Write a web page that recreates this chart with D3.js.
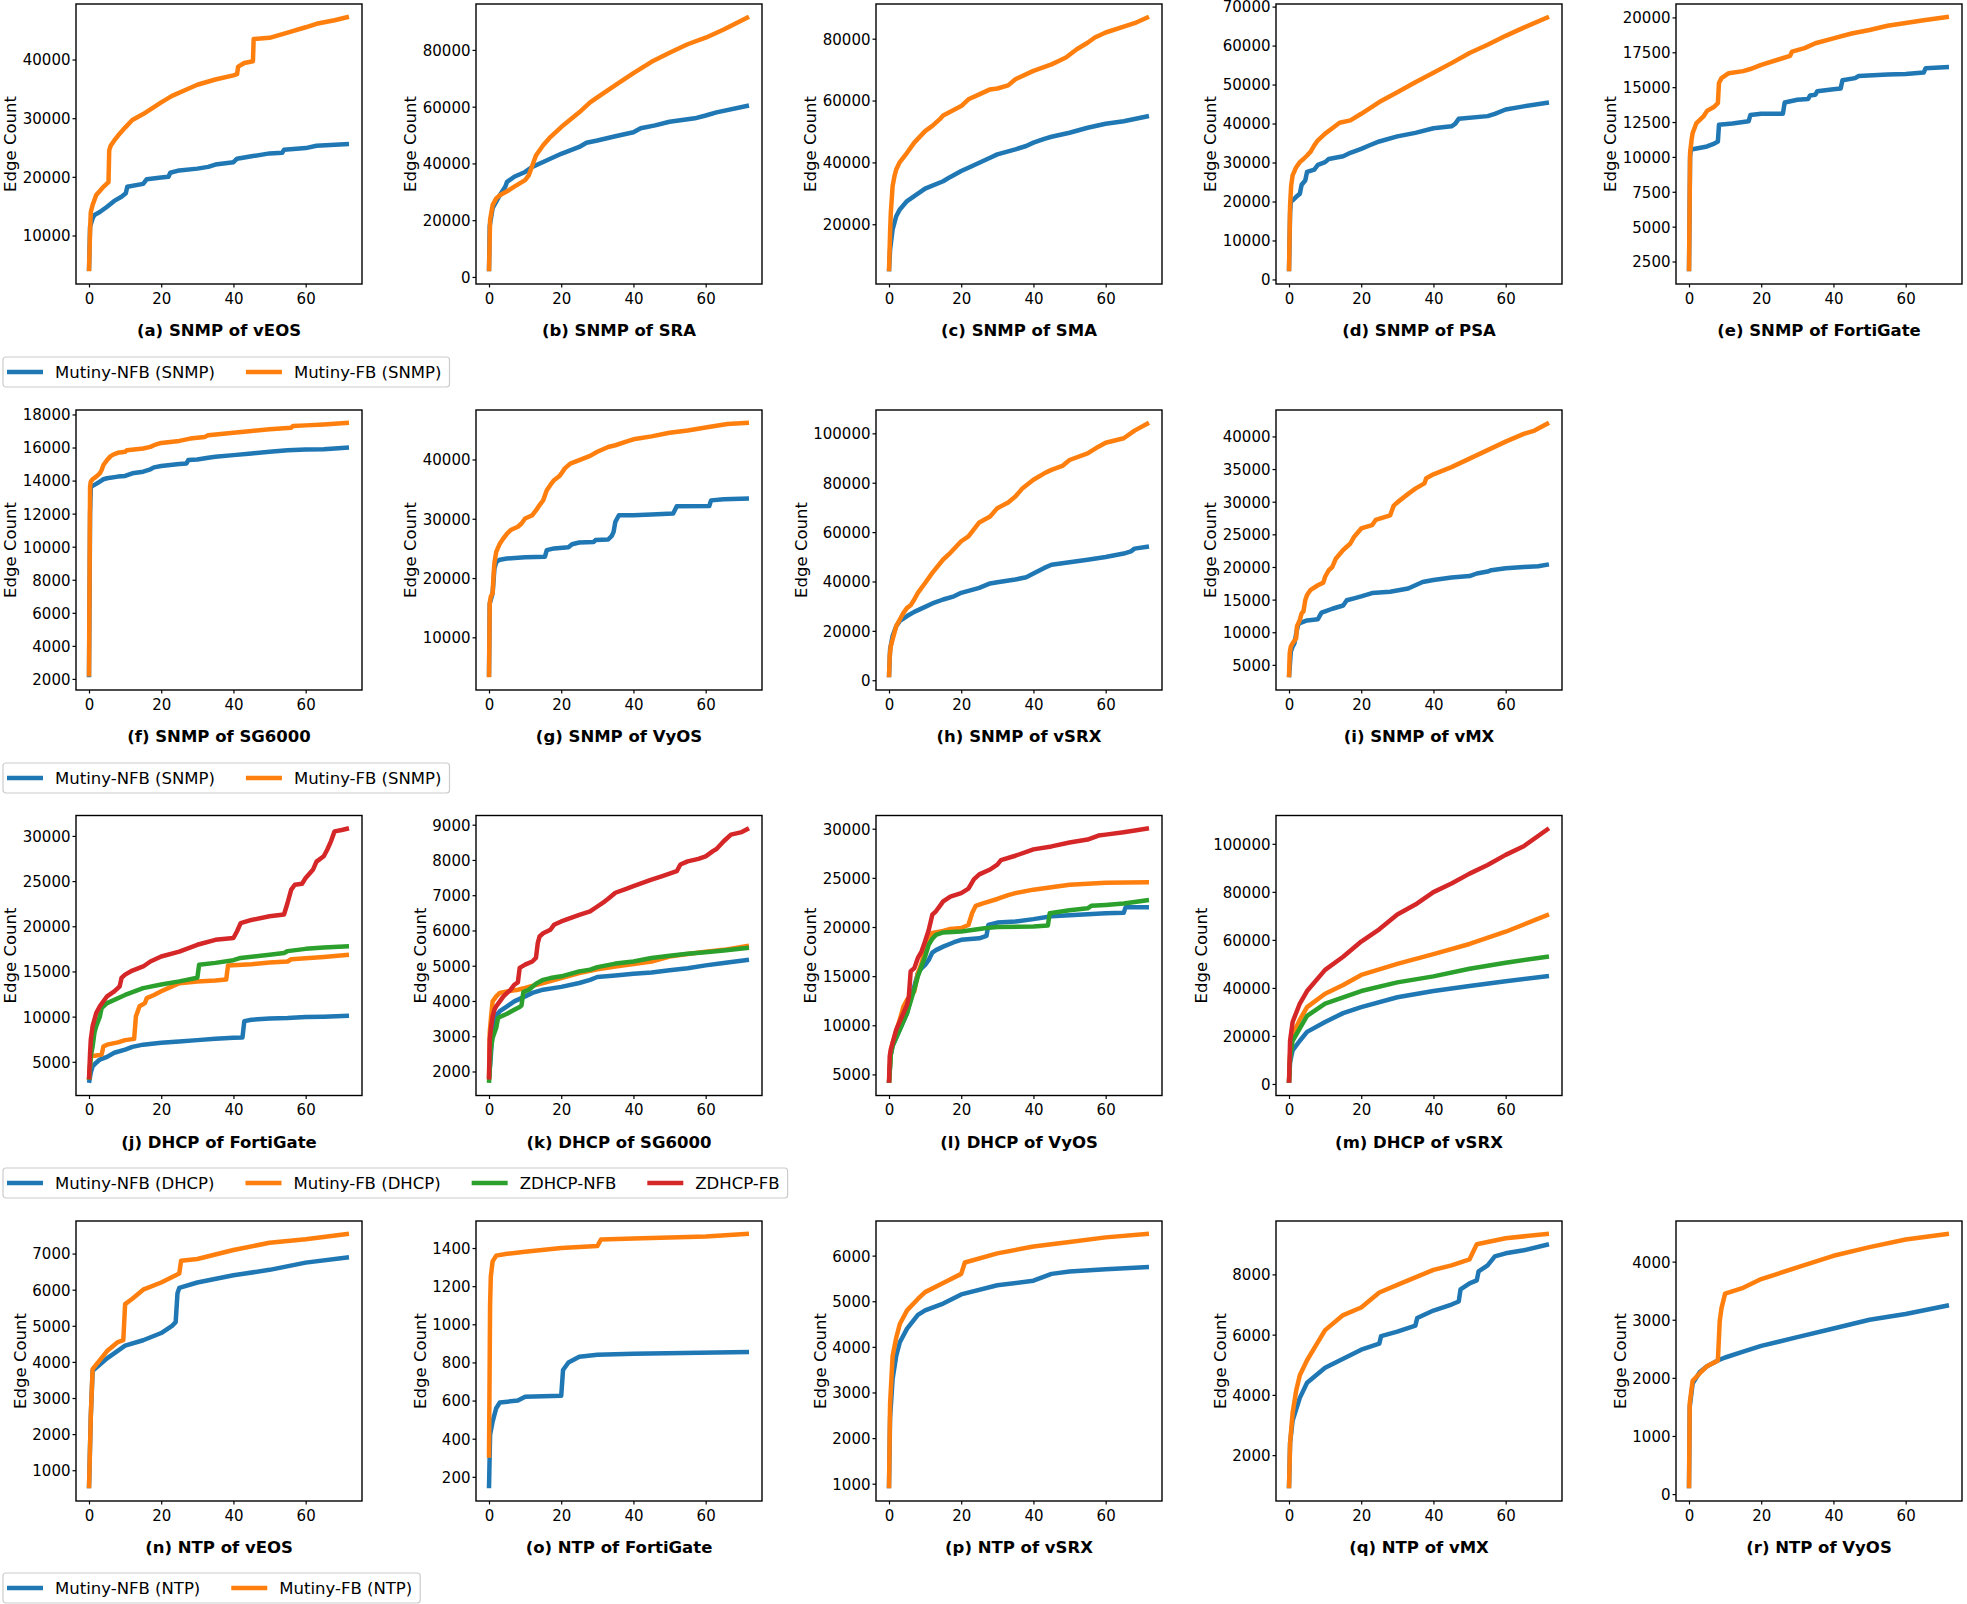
<!DOCTYPE html>
<html><head><meta charset="utf-8">
<script src="https://cdn.jsdelivr.net/npm/d3@7"></script>
<style>body{margin:0;background:#fff} svg{display:block} text{font-family:"DejaVu Sans",sans-serif}</style>
</head><body><script>
const xTicks=[0,20,40,60];
// ---- (a) SNMP of vEOS
const snmpVeosNfb=[[0,4000],[0.3,11500],[1,12900],[1.5,13500],[3,14000],[5,14900],[7,15900],[9,16600],[10.2,17200],[10.6,18300],[15,18800],[16,19600],[20,19900],[22,20000],[22.5,20700],[25,21100],[30,21400],[33,21700],[35,22100],[40,22500],[41,23100],[45,23500],[50,24000],[53.5,24100],[54,24600],[60,24900],[63,25300],[72,25600]];
const snmpVeosFb=[[0,3900],[0.3,11000],[0.5,14000],[1,15200],[2,16900],[3,17600],[4,18300],[5.4,19100],[5.6,24500],[6,25300],[7,26200],[8,27000],[10,28400],[12,29700],[15,30700],[20,32700],[23,33800],[27,34900],[30,35700],[35,36600],[40,37300],[41,37500],[41.3,38800],[43,39400],[45.4,39700],[45.6,43500],[50,43700],[55,44600],[60,45500],[63,46100],[68,46700],[72,47300]];
// ---- (b) SNMP of SRA
const snmpSraNfb=[[0,2000],[0.2,18000],[1,24200],[3,28800],[4.5,31800],[5,33500],[7,35300],[10,37000],[12,38800],[15,40500],[20,43400],[25,45800],[27,47300],[30,48100],[35,49600],[40,51000],[42,52400],[46,53400],[50,54700],[57,55900],[60,56900],[63,58000],[72,60400]];
const snmpSraFb=[[0,2000],[0.3,20000],[1,25300],[2,27700],[3,28800],[5,30200],[7,31800],[10,34100],[11,35800],[12,39300],[13,42800],[15,46400],[17,49300],[20,52800],[25,58000],[28,61500],[30,63300],[35,67600],[40,71800],[45,75800],[50,79000],[55,82000],[60,84300],[65,87200],[72,91700]];
// ---- (c) SNMP of SMA
const snmpSmaNfb=[[0,4800],[0.3,11800],[1,18300],[2,22600],[3,24800],[5,27500],[7,29100],[9,30700],[10,31500],[15,33900],[17,35300],[20,37200],[22,38300],[25,39900],[28,41500],[30,42600],[35,44200],[38,45300],[40,46400],[43,47600],[45,48300],[50,49600],[55,51200],[60,52500],[65,53300],[72,55000]];
const snmpSmaFb=[[0,4800],[0.3,17200],[0.5,23700],[1,32300],[1.5,35500],[2,37700],[3,40100],[5,43100],[7,46400],[10,50100],[12,51800],[14,53900],[15,55200],[20,58200],[22,60400],[25,62000],[28,63600],[30,63900],[33,64900],[35,66900],[40,69600],[45,71700],[47,72800],[49,73900],[52,76600],[55,78700],[57,80400],[60,82000],[65,83900],[68,85000],[72,87100]];
// ---- (d) SNMP of PSA
const snmpPsaNfb=[[0,2100],[0.3,17000],[0.5,19900],[1,20300],[2,21200],[3,22000],[3.5,24300],[4.5,25400],[5,27600],[7,28200],[8,29400],[10,30100],[11,30900],[15,31600],[17,32500],[20,33500],[22,34300],[25,35400],[30,36700],[35,37600],[40,38800],[45,39300],[46,39900],[47,41200],[55,41900],[57,42500],[60,43600],[65,44400],[72,45400]];
const snmpPsaFb=[[0,2100],[0.3,19000],[0.6,24100],[1,26700],[2,28800],[3,30100],[4,30900],[5,31800],[6,32800],[7,34400],[8,35700],[10,37400],[12,38800],[14,40200],[17,40800],[20,42500],[25,45500],[30,48000],[35,50600],[40,53000],[45,55500],[50,58100],[55,60200],[60,62500],[65,64600],[72,67400]];
// ---- (e) SNMP of FortiGate
const snmpFortiNfb=[[0,1800],[0.3,10000],[0.5,10500],[1,10550],[5,10750],[7,10950],[8,11100],[8.3,12300],[12,12400],[16.5,12550],[17,13000],[20,13100],[26,13100],[26.5,13900],[30,14100],[33,14150],[33.5,14400],[35,14450],[35.5,14700],[40,14850],[42,14900],[42.5,15500],[46,15650],[47,15800],[55,15900],[60,15950],[65,16050],[65.5,16350],[72,16450]];
const snmpFortiFb=[[0,1800],[0.3,10300],[0.7,11200],[1,11700],[2,12400],[3,12650],[4,12900],[5,13300],[7,13600],[8,13850],[8.3,15300],[9,15650],[11,16000],[15,16150],[17,16300],[20,16600],[25,17000],[28,17250],[28.5,17550],[32,17800],[35,18150],[40,18500],[45,18850],[50,19100],[55,19400],[60,19600],[65,19800],[72,20050]];
// ---- (f) SNMP of SG6000
const snmpSgNfb=[[0,2100],[0.3,12000],[0.5,13600],[1,13680],[2,13800],[3,13940],[4,14080],[5,14140],[8,14240],[10,14280],[12,14440],[15,14540],[17,14680],[18,14800],[20,14880],[25,15000],[27,15040],[27.5,15240],[30,15280],[33,15380],[35,15440],[40,15540],[45,15640],[50,15740],[55,15840],[60,15880],[65,15900],[72,16000]];
const snmpSgFb=[[0,2140],[0.3,13640],[0.5,13940],[1,14080],[2,14240],[3,14440],[3.5,14640],[4,14940],[5,15240],[6,15480],[7,15600],[8,15680],[10,15740],[10.5,15840],[15,15940],[17,16040],[18,16140],[20,16280],[25,16400],[28,16540],[32,16640],[33,16740],[40,16900],[45,17000],[50,17100],[56,17200],[56.5,17300],[60,17340],[65,17400],[72,17500]];
// ---- (g) SNMP of VyOS
const snmpVyosNfb=[[0,3300],[0.2,15700],[1,17400],[1.5,21600],[2,22700],[3,23100],[5,23300],[10,23500],[15.5,23600],[16,24700],[18,25000],[22,25200],[23,25700],[25,26000],[29,26100],[29.5,26400],[33,26500],[34,27100],[34.5,27800],[35,29500],[36,30600],[40,30600],[45,30700],[51,30900],[52,32100],[61,32150],[61.5,33100],[65,33300],[72,33400]];
const snmpVyosFb=[[0,3260],[0.2,15700],[0.5,16850],[1,17400],[1.3,20800],[1.5,22500],[2,24400],[3,25800],[4,26700],[5,27500],[6,28100],[8,28650],[9,29200],[10,30050],[12,30600],[13,31400],[14,32300],[15,33100],[16,34800],[17,35700],[18,36500],[19.5,37200],[20,37600],[21,38500],[22.5,39300],[25,39900],[28,40600],[30,41300],[33,42100],[35,42400],[38,43000],[40,43400],[45,43900],[50,44500],[55,44900],[60,45400],[63,45700],[66,46000],[72,46200]];
// ---- (h) SNMP of vSRX
const snmpVsrxNfb=[[0,1200],[0.3,12500],[1,17900],[2,21900],[3,24000],[5,26000],[7,27700],[10,29700],[12,31100],[15,32700],[18,34000],[20,35400],[25,37400],[28,39200],[30,39700],[35,40800],[38,41700],[40,43200],[43,45500],[45,46800],[50,47800],[55,48800],[60,49900],[65,51300],[67,52200],[68,53300],[72,54200]];
const snmpVsrxFb=[[0,1200],[0.2,9800],[0.5,13900],[1,16500],[2,21900],[3,24600],[4,27300],[5,29300],[6,30400],[7,32700],[8,35400],[10,39400],[12,43500],[15,48900],[17,51600],[20,56300],[22,58300],[25,63900],[28,66300],[30,69700],[33,72000],[35,74400],[37,77800],[40,81200],[43,83800],[45,85200],[48,86800],[50,89200],[55,91900],[58,94600],[60,96200],[65,98000],[68,101100],[72,104300]];
// ---- (i) SNMP of vMX
const snmpVmxNfb=[[0,3100],[0.5,7000],[1,7800],[1.5,8300],[2,9800],[2.5,11100],[3,11400],[5,11800],[8,12000],[9,13000],[10,13200],[12,13600],[15,14100],[16,14900],[18,15200],[20,15500],[23,16000],[28,16200],[33,16700],[35,17200],[37,17700],[40,18000],[45,18400],[50,18600],[52,19000],[55,19300],[56,19500],[60,19800],[65,20000],[69,20100],[72,20400]];
const snmpVmxFb=[[0,3100],[0.2,6800],[0.5,7800],[1,8300],[2,9100],[2.2,10900],[3,11900],[3.5,12900],[4,13200],[4.5,14900],[5,15700],[6,16500],[8,17200],[9.5,17600],[10,18500],[11,19500],[12,20000],[13,21300],[15,22600],[17,23600],[18,24600],[20,25900],[23,26400],[24,27200],[28,27900],[29,29400],[30,29900],[33,31200],[35,32000],[37.5,32800],[38,33600],[40,34200],[45,35300],[50,36600],[55,37900],[60,39200],[65,40400],[68,40900],[72,42100]];
// ---- (j) DHCP of FortiGate
const dhcpFortiMnfb=[[0,2680],[0.5,3800],[1,4500],[2,4900],[3,5250],[5,5550],[7,6000],[10,6350],[12,6650],[15,6900],[20,7100],[25,7250],[30,7400],[35,7550],[40,7650],[42.5,7700],[43,9500],[45,9650],[50,9800],[55,9850],[60,9950],[65,10000],[72,10100]];
const dhcpFortiMfb=[[0,3000],[0.5,5600],[2,5700],[3.5,5800],[4,6700],[5,6900],[8,7150],[10,7400],[12.5,7540],[13,10050],[14,11150],[15.5,11500],[16,12050],[18,12400],[20,12800],[23,13350],[25,13700],[30,13900],[35,14000],[38,14100],[38.5,15650],[45,15800],[50,16000],[55,16100],[56,16350],[60,16450],[65,16600],[72,16850]];
const dhcpFortiZnfb=[[0,3000],[0.5,5600],[1,6700],[1.5,8200],[2,8940],[3,10000],[3.5,10950],[5,11500],[10,12400],[15,13150],[20,13550],[25,13900],[30,14300],[30.5,15750],[35,15950],[40,16250],[42,16500],[50,16850],[54,17050],[55,17250],[60,17500],[65,17650],[72,17800]];
const dhcpFortiZfb=[[0,3050],[0.3,6000],[0.5,7470],[1,8940],[2,10400],[3,11150],[5,12250],[7,12800],[8.5,13350],[9,14280],[10,14650],[12,15100],[15,15550],[17,16100],[20,16650],[25,17200],[30,17950],[35,18500],[40,18700],[41,19450],[42,20350],[45,20700],[50,21100],[54,21300],[55,22600],[56,24050],[57,24600],[59,24700],[60,25350],[62,26250],[63,27150],[65,27750],[66,28500],[67,29400],[68,30500],[70,30650],[72,30850]];
// ---- (k) DHCP of SG6000
const dhcpSgMnfb=[[0,1800],[0.5,2440],[1,3200],[2,3590],[3,3710],[5,3850],[7,3990],[10,4130],[12,4230],[15,4320],[20,4400],[25,4510],[28,4600],[30,4680],[35,4720],[40,4770],[45,4810],[50,4870],[55,4930],[60,5010],[65,5080],[72,5170]];
const dhcpSgMfb=[[0,1800],[0.2,3100],[0.5,3470],[1,3990],[2,4130],[3,4230],[5,4270],[8,4320],[10,4370],[15,4510],[20,4650],[25,4790],[30,4900],[35,4980],[40,5050],[45,5120],[50,5260],[55,5330],[60,5400],[65,5450],[72,5570]];
const dhcpSgZnfb=[[0,1680],[0.5,2620],[1,2950],[1.5,3100],[2,3240],[2.5,3520],[3,3545],[5,3640],[7,3750],[8.5,3830],[9,3870],[9.5,4250],[11,4320],[12,4400],[13,4490],[15,4600],[17,4650],[20,4700],[25,4840],[28,4890],[30,4960],[35,5060],[40,5120],[45,5220],[50,5280],[55,5340],[60,5380],[65,5430],[72,5510]];
const dhcpSgZfb=[[0,1770],[0.2,2900],[0.5,3200],[1,3560],[1.5,3750],[2,3850],[3,3990],[4,4130],[5,4230],[6,4320],[7,4460],[8,4530],[8.5,4940],[10,5030],[12,5120],[13,5220],[13.5,5640],[14,5830],[15,5920],[17,6020],[18,6160],[20,6255],[25,6440],[28,6540],[30,6680],[32,6820],[33,6900],[35,7070],[38,7180],[40,7260],[45,7440],[48,7540],[50,7610],[52,7680],[53,7870],[55,7960],[58,8030],[60,8100],[62,8250],[63,8310],[65,8530],[67,8720],[70,8790],[72,8900]];
// ---- (l) DHCP of VyOS
const dhcpVyosMnfb=[[0,4150],[0.5,7000],[1,7900],[3,9550],[5,11250],[7,13950],[8,15300],[9,15800],[10,16150],[11,16650],[12,17400],[13,17650],[15,18000],[18,18450],[20,18700],[25,18850],[27,19100],[27.5,20200],[30,20450],[35,20550],[40,20800],[45,21100],[50,21200],[55,21300],[60,21400],[65,21450],[65.5,22000],[72,22000]];
const dhcpVyosMfb=[[0,4150],[0.5,7300],[1,8200],[3,10600],[4,11900],[5,12600],[6,12950],[7,13450],[8,15300],[9,16300],[10,17700],[11,18900],[12,19400],[15,19600],[17,19800],[20,19900],[22,20200],[23,21400],[24,22150],[26,22400],[30,22850],[33,23250],[35,23450],[40,23800],[45,24050],[50,24300],[55,24400],[60,24500],[72,24550]];
const dhcpVyosZnfb=[[0,4150],[0.5,7000],[1,7900],[3,9550],[5,11250],[7,13650],[8,15000],[10,17000],[11,18200],[12,18800],[13,19200],[15,19450],[20,19550],[27,19900],[30,20000],[40,20050],[44,20150],[44.5,21400],[50,21700],[55,21900],[56,22150],[60,22250],[65,22400],[72,22750]];
const dhcpVyosZfb=[[0,4150],[0.2,6850],[0.5,7540],[1,8200],[2,9560],[3,10400],[4,11250],[5,12100],[5.5,12950],[6,15500],[7,15800],[8,16850],[9,17500],[10,18550],[11,19700],[12,21250],[13,21600],[14,22100],[15,22600],[17,23100],[20,23450],[22,23900],[23.5,24850],[25,25350],[28,25850],[30,26350],[31,26800],[35,27250],[40,27900],[45,28200],[50,28600],[55,28900],[58,29300],[60,29400],[65,29650],[72,30050]];
// ---- (m) DHCP of vSRX
const dhcpVsrxMnfb=[[0,500],[0.3,9000],[1,14000],[3,18000],[5,21700],[10,25800],[15,29500],[20,32000],[30,36100],[40,38700],[50,40800],[60,42800],[72,45000]];
const dhcpVsrxMfb=[[0,500],[0.3,12000],[1,20600],[3,26800],[5,32000],[10,37600],[15,41200],[20,45400],[30,50000],[40,54100],[50,58300],[60,63400],[72,70600]];
const dhcpVsrxZnfb=[[0,500],[0.3,11000],[1,18000],[3,23200],[5,28400],[10,33500],[15,36100],[20,38700],[30,42300],[40,44800],[50,48000],[60,50500],[72,53100]];
const dhcpVsrxZfb=[[0,500],[0.3,18000],[1,25800],[3,33500],[5,38700],[10,47500],[15,53000],[20,59300],[25,64400],[30,70600],[35,74700],[40,79900],[45,83500],[50,87600],[55,91200],[60,95400],[65,99000],[72,106500]];
// ---- (n)-(r) NTP
const ntpVeosNfb=[[0,500],[0.5,2500],[1,3750],[5,4100],[10,4450],[15,4600],[20,4800],[23,5000],[24,5100],[24.5,5900],[25,6050],[30,6200],[40,6400],[50,6550],[60,6750],[72,6900]];
const ntpVeosFb=[[0,500],[0.5,2500],[1,3800],[5,4300],[8,4550],[9.5,4600],[10,5600],[12,5750],[15,6000],[20,6200],[25,6450],[25.5,6800],[30,6850],[40,7100],[50,7300],[60,7400],[72,7550]];
const ntpFortiNfb=[[0,140],[0.3,420],[1,490],[2,560],[3,590],[8,600],[10,620],[20,625],[20.5,760],[22,800],[25,830],[30,840],[40,845],[72,855]];
const ntpFortiFb=[[0,300],[0.3,1100],[0.5,1250],[1,1330],[2,1360],[5,1370],[10,1380],[20,1400],[30,1410],[31,1445],[40,1450],[60,1460],[72,1475]];
const ntpVsrxNfb=[[0,900],[0.3,2450],[1,3300],[2,3800],[3,4100],[5,4400],[8,4700],[10,4800],[15,4950],[20,5150],[30,5350],[40,5450],[45,5600],[50,5650],[60,5700],[72,5750]];
const ntpVsrxFb=[[0,900],[0.3,2750],[1,3800],[2,4200],[3,4500],[5,4800],[8,5050],[10,5200],[15,5400],[20,5600],[21,5850],[30,6050],[40,6200],[50,6300],[60,6400],[72,6480]];
const ntpVmxNfb=[[0,900],[0.3,2400],[1,3150],[3,3900],[5,4400],[10,4900],[20,5500],[25,5700],[25.5,5950],[30,6100],[35,6300],[35.5,6550],[40,6800],[45,7000],[47,7100],[47.5,7500],[50,7700],[52,7800],[52.5,8100],[55,8300],[57,8600],[60,8700],[65,8800],[72,9000]];
const ntpVmxFb=[[0,900],[0.3,2400],[1,3400],[2,4150],[3,4650],[5,5150],[8,5750],[10,6150],[15,6650],[20,6900],[25,7400],[30,7650],[35,7900],[40,8150],[45,8300],[50,8500],[52,9000],[60,9200],[72,9350]];
const ntpVyosNfb=[[0,100],[0.2,1500],[1,1900],[3,2100],[5,2200],[8,2300],[10,2350],[15,2450],[20,2550],[30,2700],[40,2850],[50,3000],[60,3100],[72,3250]];
const ntpVyosFb=[[0,100],[0.2,1560],[1,1950],[3,2080],[5,2200],[8,2300],[8.5,2970],[9,3200],[10,3450],[15,3550],[20,3700],[30,3900],[40,4100],[50,4250],[60,4380],[72,4480]];

// tick values per panel
const ticksA=[10000,20000,30000,40000], ticksB=[0,20000,40000,60000,80000], ticksC=[20000,40000,60000,80000];
const ticksD=[0,10000,20000,30000,40000,50000,60000,70000], ticksE=[2500,5000,7500,10000,12500,15000,17500,20000];
const ticksF=[2000,4000,6000,8000,10000,12000,14000,16000,18000], ticksG=[10000,20000,30000,40000];
const ticksH=[0,20000,40000,60000,80000,100000], ticksI=[5000,10000,15000,20000,25000,30000,35000,40000];
const ticksJ=[5000,10000,15000,20000,25000,30000], ticksK=[2000,3000,4000,5000,6000,7000,8000,9000];
const ticksL=[5000,10000,15000,20000,25000,30000], ticksM=[0,20000,40000,60000,80000,100000];
const ticksN=[1000,2000,3000,4000,5000,6000,7000], ticksO=[200,400,600,800,1000,1200,1400];
const ticksP=[1000,2000,3000,4000,5000,6000], ticksQ=[2000,4000,6000,8000], ticksR=[0,1000,2000,3000,4000];

const C={nfb:"#1f77b4",fb:"#ff7f0e",znfb:"#2ca02c",zfb:"#d62728"};
const panels=[
 {r:0,c:0,t:"(a) SNMP of vEOS",yt:ticksA,s:[[snmpVeosNfb,C.nfb],[snmpVeosFb,C.fb]]},
 {r:0,c:1,t:"(b) SNMP of SRA",yt:ticksB,s:[[snmpSraNfb,C.nfb],[snmpSraFb,C.fb]]},
 {r:0,c:2,t:"(c) SNMP of SMA",yt:ticksC,s:[[snmpSmaNfb,C.nfb],[snmpSmaFb,C.fb]]},
 {r:0,c:3,t:"(d) SNMP of PSA",yt:ticksD,s:[[snmpPsaNfb,C.nfb],[snmpPsaFb,C.fb]]},
 {r:0,c:4,t:"(e) SNMP of FortiGate",yt:ticksE,s:[[snmpFortiNfb,C.nfb],[snmpFortiFb,C.fb]]},
 {r:1,c:0,t:"(f) SNMP of SG6000",yt:ticksF,s:[[snmpSgNfb,C.nfb],[snmpSgFb,C.fb]]},
 {r:1,c:1,t:"(g) SNMP of VyOS",yt:ticksG,s:[[snmpVyosNfb,C.nfb],[snmpVyosFb,C.fb]]},
 {r:1,c:2,t:"(h) SNMP of vSRX",yt:ticksH,s:[[snmpVsrxNfb,C.nfb],[snmpVsrxFb,C.fb]]},
 {r:1,c:3,t:"(i) SNMP of vMX",yt:ticksI,s:[[snmpVmxNfb,C.nfb],[snmpVmxFb,C.fb]]},
 {r:2,c:0,t:"(j) DHCP of FortiGate",yt:ticksJ,s:[[dhcpFortiMnfb,C.nfb],[dhcpFortiMfb,C.fb],[dhcpFortiZnfb,C.znfb],[dhcpFortiZfb,C.zfb]]},
 {r:2,c:1,t:"(k) DHCP of SG6000",yt:ticksK,s:[[dhcpSgMnfb,C.nfb],[dhcpSgMfb,C.fb],[dhcpSgZnfb,C.znfb],[dhcpSgZfb,C.zfb]]},
 {r:2,c:2,t:"(l) DHCP of VyOS",yt:ticksL,s:[[dhcpVyosMnfb,C.nfb],[dhcpVyosMfb,C.fb],[dhcpVyosZnfb,C.znfb],[dhcpVyosZfb,C.zfb]]},
 {r:2,c:3,t:"(m) DHCP of vSRX",yt:ticksM,s:[[dhcpVsrxMnfb,C.nfb],[dhcpVsrxMfb,C.fb],[dhcpVsrxZnfb,C.znfb],[dhcpVsrxZfb,C.zfb]]},
 {r:3,c:0,t:"(n) NTP of vEOS",yt:ticksN,s:[[ntpVeosNfb,C.nfb],[ntpVeosFb,C.fb]]},
 {r:3,c:1,t:"(o) NTP of FortiGate",yt:ticksO,s:[[ntpFortiNfb,C.nfb],[ntpFortiFb,C.fb]]},
 {r:3,c:2,t:"(p) NTP of vSRX",yt:ticksP,s:[[ntpVsrxNfb,C.nfb],[ntpVsrxFb,C.fb]]},
 {r:3,c:3,t:"(q) NTP of vMX",yt:ticksQ,s:[[ntpVmxNfb,C.nfb],[ntpVmxFb,C.fb]]},
 {r:3,c:4,t:"(r) NTP of VyOS",yt:ticksR,s:[[ntpVyosNfb,C.nfb],[ntpVyosFb,C.fb]]}
];
const legends=[
 {top:357,items:[["Mutiny-NFB (SNMP)",C.nfb],["Mutiny-FB (SNMP)",C.fb]]},
 {top:763,items:[["Mutiny-NFB (SNMP)",C.nfb],["Mutiny-FB (SNMP)",C.fb]]},
 {top:1168,items:[["Mutiny-NFB (DHCP)",C.nfb],["Mutiny-FB (DHCP)",C.fb],["ZDHCP-NFB",C.znfb],["ZDHCP-FB",C.zfb]]},
 {top:1573,items:[["Mutiny-NFB (NTP)",C.nfb],["Mutiny-FB (NTP)",C.fb]]}
];

const W=1967,H=1604, PW=286, PH=280;
const rowTop=[4,410,815.5,1221];
const svg=d3.select("body").append("svg").attr("width",W).attr("height",H);
svg.append("rect").attr("width",W).attr("height",H).attr("fill","#fff");

panels.forEach(p=>{
  const L=76+400*p.c, T=rowTop[p.r];
  const g=svg.append("g").attr("transform",`translate(${L},${T})`);
  const all=p.s.flatMap(d=>d[0]);
  const xe=d3.extent(all,d=>d[0]), ye=d3.extent(all,d=>d[1]);
  const xp=(xe[1]-xe[0])*0.05, yp=(ye[1]-ye[0])*0.05;
  const x=d3.scaleLinear().domain([xe[0]-xp,xe[1]+xp]).range([0,PW]);
  const y=d3.scaleLinear().domain([ye[0]-yp,ye[1]+yp]).range([PH,0]);
  const xa=g.append("g").attr("transform",`translate(0,${PH})`)
    .call(d3.axisBottom(x).tickValues(xTicks).tickSize(3.5).tickPadding(2.5).tickFormat(d3.format("d")));
  const ya=g.append("g").call(d3.axisLeft(y).tickValues(p.yt).tickSize(3.5).tickPadding(2).tickFormat(d3.format("d")));
  [xa,ya].forEach(a=>{a.select(".domain").remove();a.selectAll("line").attr("stroke","#000").attr("stroke-width",1.2);
    a.selectAll("text").attr("font-size",15).attr("fill","#000").attr("font-family","DejaVu Sans");});
  xa.selectAll("text").attr("dy","0.9em");
  ya.selectAll("text").attr("dy","0.36em");
  const line=d3.line().x(d=>x(d[0])).y(d=>y(d[1]));
  p.s.forEach(([data,col])=>{
    g.append("path").attr("d",line(data)).attr("fill","none").attr("stroke",col)
     .attr("stroke-width",4.5).attr("stroke-linejoin","round").attr("stroke-linecap","butt");
  });
  g.append("rect").attr("width",PW).attr("height",PH).attr("fill","none").attr("stroke","#000").attr("stroke-width",1.4);
  let mw=0; ya.selectAll("text").each(function(){mw=Math.max(mw,this.getComputedTextLength());});
  const cx=-mw-18;
  g.append("text").attr("transform",`translate(${cx+6},${PH/2}) rotate(-90)`).attr("text-anchor","middle")
    .attr("font-size",16.5).attr("fill","#000").text("Edge Count");
  g.append("text").attr("x",PW/2).attr("y",PH+52).attr("text-anchor","middle").attr("font-size",16.5)
    .attr("font-weight","bold").attr("fill","#000").text(p.t);
});

legends.forEach(lg=>{
  const g=svg.append("g");
  const box=g.append("rect").attr("x",3).attr("y",lg.top).attr("height",30).attr("rx",3)
    .attr("fill","#fff").attr("stroke","#cccccc").attr("stroke-width",1.2);
  let xc=7; const cy=lg.top+15;
  lg.items.forEach(([lab,col])=>{
    g.append("line").attr("x1",xc).attr("x2",xc+36).attr("y1",cy).attr("y2",cy).attr("stroke",col).attr("stroke-width",4.5);
    const t=g.append("text").attr("x",xc+48).attr("y",cy+6).attr("font-size",16.5).attr("fill","#000").text(lab);
    xc=xc+48+t.node().getComputedTextLength()+31;
  });
  box.attr("width",xc-31+8-3);
});
</script></body></html>
